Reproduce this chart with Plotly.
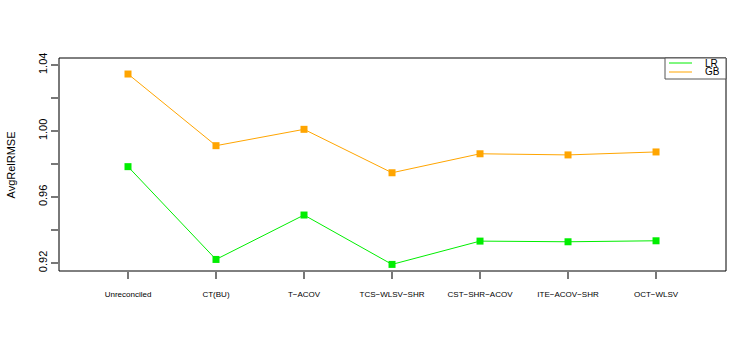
import plotly.graph_objects as go

categories = ["Unreconciled", "CT(BU)", "T\u2212ACOV", "TCS\u2212WLSV\u2212SHR",
              "CST\u2212SHR\u2212ACOV", "ITE\u2212ACOV\u2212SHR", "OCT\u2212WLSV"]
lr_values = [0.9784, 0.9222, 0.9491, 0.9192, 0.9333, 0.9329, 0.9335]
gb_values = [1.0345, 0.9911, 1.0010, 0.9747, 0.9862, 0.9855, 0.9873]
series_names = ["LR", "GB"]
series_colors = ["#00ee00", "#ffa500"]
y_tickvals = [0.92, 0.94, 0.96, 0.98, 1.00, 1.02, 1.04]
y_ticktext = ["0.92", "", "0.96", "", "1.00", "", "1.04"]

font_family = "Liberation Sans, Arial, sans-serif"
xs = list(range(len(categories)))

fig = go.Figure()
for name, vals, col in zip(series_names, [lr_values, gb_values], series_colors):
    fig.add_trace(go.Scatter(
        x=xs, y=vals, mode="lines+markers", name=name,
        line=dict(color=col, width=1),
        marker=dict(symbol="square", size=7, color=col),
        showlegend=False,
    ))

fig.update_layout(
    width=756, height=345,
    margin=dict(l=59, r=30, t=58, b=74, autoexpand=False),
    paper_bgcolor="white", plot_bgcolor="white",
    font=dict(family=font_family, color="black"),
    xaxis=dict(
        range=[-0.784, 6.795], tickmode="array", tickvals=xs, ticktext=categories,
        showgrid=False, zeroline=False, showline=False, automargin=False,
        ticks="outside", ticklen=7, tickcolor="#777777", tickwidth=1.5,
        tickfont=dict(size=8), ticklabelstandoff=8,
    ),
    yaxis=dict(
        range=[0.9152, 1.0442], tickmode="array", tickvals=y_tickvals, ticktext=y_ticktext,
        showgrid=False, zeroline=False, showline=False, automargin=False,
        ticks="outside", ticklen=7, tickcolor="#777777", tickwidth=1.5,
        tickfont=dict(size=11), tickangle=-90,
    ),
)

# plot frame
fig.add_shape(type="rect", xref="paper", yref="paper", x0=0, x1=1, y0=0, y1=1,
              line=dict(color="black", width=1))
# gray axis line on the left (R style)
fig.add_shape(type="line", xref="paper", yref="y", x0=0, x1=0, y0=0.92, y1=1.04,
              line=dict(color="#777777", width=1.5))

W = 756 - 59 - 30
H = 345 - 58 - 74

# y title
fig.add_annotation(text="AvgRelRMSE", xref="paper", yref="paper", x=-49 / W, y=0.5,
                   xanchor="center", yanchor="middle", textangle=-90,
                   showarrow=False, font=dict(size=11))

# legend box (top right, R style)
lx0 = 1 - 61 / W
ly0 = 1 - 21 / H
fig.add_shape(type="rect", xref="paper", yref="paper", x0=lx0, x1=1, y0=ly0, y1=1,
              line=dict(color="#555555", width=1), fillcolor="white")
for i, (name, col) in enumerate(zip(series_names, series_colors)):
    yy = 1 - (5 + 9 * i) / H
    fig.add_shape(type="line", xref="paper", yref="paper",
                  x0=1 - 57 / W, x1=1 - 34 / W, y0=yy, y1=yy,
                  line=dict(color=col, width=1))
    fig.add_annotation(text=name, xref="paper", yref="paper",
                       x=1 - 23 / W, y=1 - (5 + 8 * i) / H,
                       xanchor="left", yanchor="middle", showarrow=False,
                       font=dict(size=10))

fig.write_html("out.html", config={"displayModeBar": False},
               post_script="document.body.style.margin='0';document.body.style.overflow='hidden';")
